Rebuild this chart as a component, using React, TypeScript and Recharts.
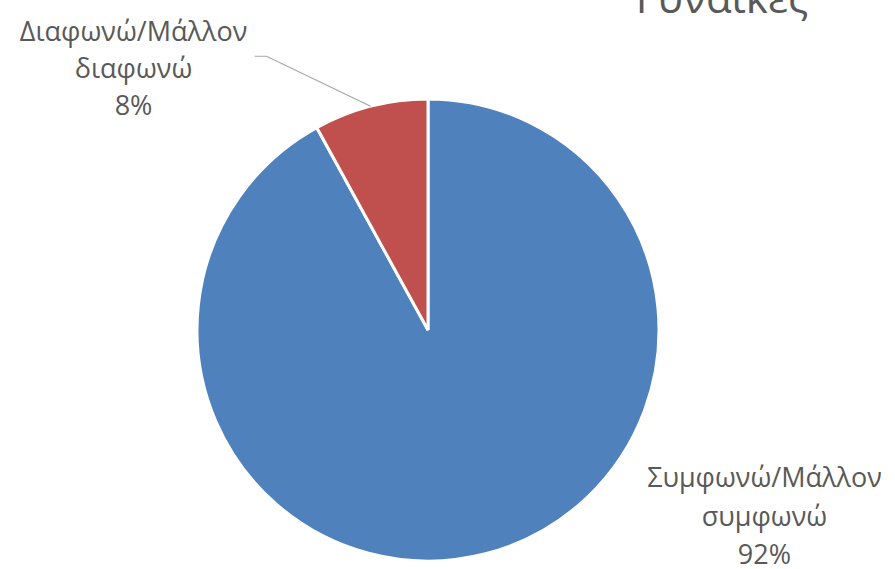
import React from "react";
import { PieChart, Pie, Cell } from "recharts";

const categories = ["Συμφωνώ/Μάλλον συμφωνώ", "Διαφωνώ/Μάλλον διαφωνώ"];
const labelLines = [
  ["Συμφωνώ/Μάλλον", "συμφωνώ"],
  ["Διαφωνώ/Μάλλον", "διαφωνώ"],
];
const values = [92, 8];
const colors = ["#4F81BD", "#C0504D"];
const title = "Γυναίκες";

const data = categories.map((name, i) => ({ name, value: values[i] }));

const FONT = "'Open Sans', 'Noto Sans', sans-serif";
const TEXT = "#595959";

// label placement relative to the slice edge point
const renderLabel = (props: any) => {
  const { cx, cy, midAngle, outerRadius, index, percent } = props;
  const RAD = Math.PI / 180;
  const ex = cx + outerRadius * Math.cos(-midAngle * RAD);
  const ey = cy + outerRadius * Math.sin(-midAngle * RAD);
  const pct = `${Math.round(percent * 100)}%`;
  const lines = [...labelLines[index], pct];
  if (index === 1) {
    const kx = ex - 104;
    const ky = ey - 50;
    const tx = kx - 133;
    const ty = ky - 26;
    return (
      <g>
        <polyline
          points={`${ex},${ey} ${kx},${ky} ${kx - 12},${ky}`}
          fill="none"
          stroke="#A6A6A6"
          strokeWidth={1.2}
        />
        {lines.map((l, i) => (
          <text key={i} x={tx} y={ty + i * 37} textAnchor="middle" dominantBaseline="central" fill={TEXT} fontSize={27} fontFamily={FONT}>
            {l}
          </text>
        ))}
      </g>
    );
  }
  const tx = ex + 279;
  const ty = ey - 77;
  return (
    <g>
      {lines.map((l, i) => (
        <text key={i} x={tx} y={ty + i * 38.5} textAnchor="middle" dominantBaseline="central" fill={TEXT} fontSize={27} fontFamily={FONT}>
          {l}
        </text>
      ))}
    </g>
  );
};

export default function App() {
  return (
    <div style={{ position: "absolute", left: 0, top: 0, width: 895, height: 569, background: "#fff", overflow: "hidden" }}>
      <div
        style={{
          position: "absolute",
          left: 592,
          top: -32,
          width: 260,
          textAlign: "center",
          fontFamily: FONT,
          fontSize: 42,
          color: TEXT,
          lineHeight: "58px",
        }}
      >
        {title}
      </div>
      <PieChart width={895} height={569} margin={{ top: 0, right: 0, bottom: 0, left: 0 }}>
        <Pie
          data={data}
          dataKey="value"
          nameKey="name"
          cx={428}
          cy={330}
          outerRadius={231}
          startAngle={90}
          endAngle={-270}
          stroke="#fff"
          strokeWidth={3}
          label={renderLabel}
          labelLine={false}
          isAnimationActive={false}
        >
          {data.map((d, i) => (
            <Cell key={d.name} fill={colors[i]} />
          ))}
        </Pie>
      </PieChart>
    </div>
  );
}
